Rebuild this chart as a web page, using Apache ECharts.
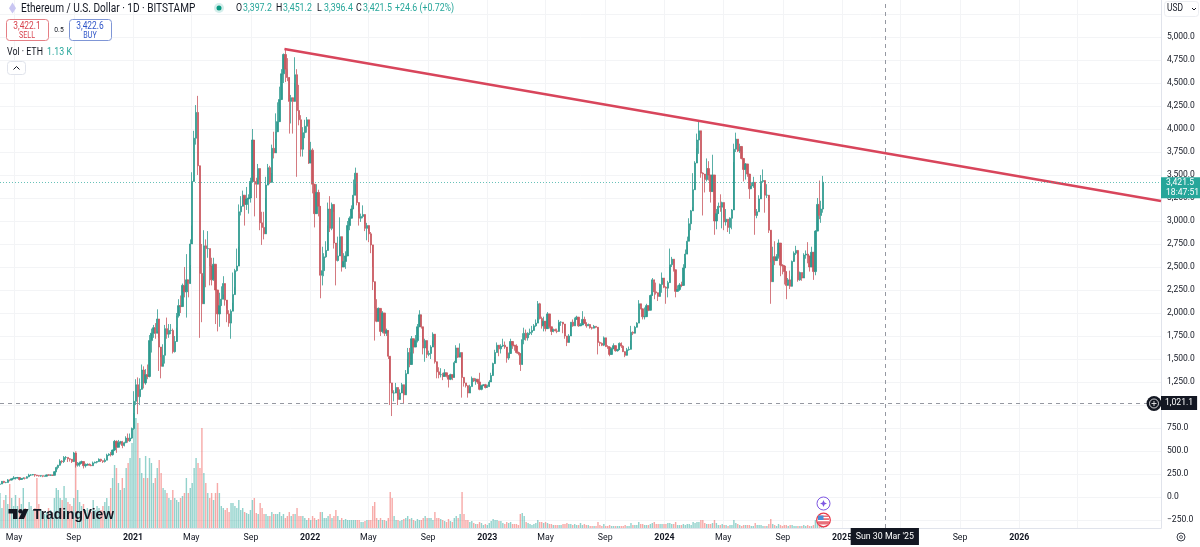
<!DOCTYPE html>
<html>
<head>
<meta charset="utf-8">
<style>html,body{margin:0;padding:0;background:#fff}#c{width:1200px;height:547px}</style>
<script src="https://cdn.jsdelivr.net/npm/echarts@6/dist/echarts.min.js"></script>
</head>
<body>
<div id="c"></div>
<script>
// [close, low, high] per 4-day period, opens follow the previous close
const candles2020=[
[141,134,146],[170,142,174],[158,150,175],[158,150,165],[186,155,195],[184,170,190],[197,180,200],[206,195,227],
[207,190,215],[212,200,218],[190,180,213],[200,185,207],[205,195,215],[204,190,212],[220,200,225],
[238,215,252],[240,228,248],[244,235,250],[238,220,248],[232,225,240],[228,222,235],[232,220,236],[226,215,232],
[226,222,232],[240,224,245],[238,232,246],[238,232,242],[236,232,240],[275,238,280],[320,270,330],[345,300,350],
[390,340,410],[385,365,400],[430,370,445],[430,405,445],[415,380,430],[410,385,420],[385,370,405],
[478,380,490],[345,320,480],[355,330,380],[370,330,385],[385,360,395],[340,310,385],[350,320,365],[355,340,365],
[345,340,365],[340,335,360],[370,345,385],[378,365,385],[385,365,390],[410,380,420],[395,380,415],[385,370,395],
[400,375,420],[455,400,470],[465,445,475],[460,440,490],[510,450,515],[605,500,620],[540,480,615],
[590,540,620],[600,570,610],[560,530,610],[590,550,600],[640,585,660],[610,590,690],[640,600,690],[745,630,755]];
const candles2021=[
[1040,730,1150],[1220,1000,1280],[1090,900,1300],[1170,1000,1290],[1380,1210,1440],[1240,1180,1420],[1330,1220,1390],[1310,1280,1440],
[1700,1300,1760],[1780,1570,1830],[1840,1730,1870],[1780,1720,1890],[1935,1800,2040],[1630,1370,1730],[1420,1290,1520],
[1540,1450,1660],[1830,1450,1870],[1770,1720,1950],[1810,1730,1880],[1810,1770,1880],[1580,1560,1830],[1690,1570,1750],
[1970,1840,2000],[2080,1950,2150],[2070,2000,2190],[2300,2130,2320],[2230,2170,2500],[2360,1950,2640],[2320,2170,2350],[2750,2520,2800],
[3430,2950,3530],[3900,3450,3980],[4180,3830,4260],[3600,3500,4360],[2430,1730,3550],[2100,1900,2750],[2730,2400,2900],[2700,2280,2800],
[2700,2600,2890],[2510,2300,2700],[2360,2300,2600],[2530,2350,2600],[2250,1880,2300],[1990,1800,2050],[2080,1850,2220],
[2150,2080,2290],[2320,2200,2400],[2140,2080,2300],[1990,1900,2050],[1890,1850,2030],[2020,1720,2040],[2200,2110,2440],[2460,2280,2480],
[2510,2450,2700],[3100,2720,3180],[3160,3060,3270],[3280,3180,3330],[3180,2950,3280],[3240,3120,3370],[3250,3080,3290],[3430,3200,3470],
[3880,3700,4000],[3430,3050,3560],[3400,3250,3470],[3570,3450,3620],[2980,2900,3450],[2930,2740,3100],[2860,2800,3100],
[3390,3250,3480],[3580,3430,3620],[3420,3400,3600],[3790,3520,3830],[3740,3680,3970],[3970,3890,4170],[4080,4050,4290],[4320,4100,4460],
[4600,4500,4650],[4810,4500,4820],[4650,4510,4860],[4560,4520,4770],[4300,3950,4310],[4340,4060,4370],[4300,3950,4330],
[4590,4500,4780],[4200,3480,4650],[4100,4040,4480],[3780,3700,4150],[3960,3700,4020],[4030,3900,4100],[4100,3960,4130],[3630,3620,4060]];
const candles2022=[
[3770,3700,3860],[3400,3300,3790],[3080,2930,3300],[3310,3190,3400],[3160,3050,3340],[2410,2160,3000],[2460,2300,2720],[2610,2400,2650],
[2680,2600,2780],[3130,2950,3200],[2920,2880,3270],[3180,2900,3200],[2760,2700,3100],[2570,2300,2750],[2620,2560,2830],
[2830,2790,3040],[2500,2450,2650],[2560,2500,2650],[2620,2480,2670],[2950,2900,3000],[3030,2900,3050],[3130,3100,3170],[3280,3200,3450],
[3520,3400,3580],[3200,3170,3450],[3030,2950,3100],[3050,2990,3080],[3070,3030,3170],[2920,2890,2970],[2950,2790,2980],
[2860,2770,2890],[2740,2650,2880],[2340,2250,2500],[2050,1700,2150],[1910,1900,2150],[2050,1950,2060],[1800,1750,1990],[2000,1780,2020],
[1780,1750,1880],[1810,1750,1830],[1530,1500,1790],[1240,1000,1270],[1130,880,1150],[1130,1040,1160],[1190,1170,1240],
[1060,1000,1100],[1130,1090,1170],[1220,1180,1240],[1110,1010,1120],[1340,1200,1380],[1570,1500,1620],[1440,1410,1620],[1720,1580,1750],
[1630,1560,1680],[1700,1660,1760],[1850,1680,1880],[1980,1900,2030],[1850,1830,1960],[1620,1550,1680],[1700,1470,1720],[1550,1510,1610],
[1560,1530,1590],[1630,1500,1650],[1770,1700,1790],[1470,1450,1650],[1360,1290,1450],[1330,1290,1410],[1330,1300,1400],
[1310,1270,1350],[1350,1310,1390],[1320,1300,1330],[1280,1190,1300],[1330,1270,1340],[1300,1270,1320],[1460,1340,1480],[1620,1540,1650],
[1520,1510,1600],[1570,1550,1670],[1300,1080,1340],[1240,1200,1290],[1210,1190,1240],[1130,1080,1190],[1200,1180,1220],[1290,1200,1310],
[1260,1250,1290],[1280,1220,1290],[1250,1230,1280],[1170,1160,1350],[1210,1160,1220],[1220,1215,1225],[1190,1180,1230]];
const candles2023=[
[1200,1190,1220],[1250,1210,1270],[1320,1260,1350],[1450,1390,1460],[1570,1520,1600],[1650,1570,1680],[1610,1530,1630],[1640,1560,1660],
[1650,1630,1720],[1630,1610,1690],[1510,1460,1550],[1560,1490,1570],[1690,1670,1720],[1650,1610,1660],[1640,1590,1650],
[1570,1560,1660],[1560,1540,1580],[1440,1370,1540],[1710,1600,1780],[1780,1660,1840],[1730,1700,1820],[1780,1700,1790],[1790,1760,1830],
[1810,1760,1860],[1860,1850,1880],[1890,1850,1930],[2100,1950,2130],[1940,1930,2110],[1860,1830,1960],[1910,1800,1960],
[1830,1800,1900],[1990,1870,2010],[1850,1830,1890],[1800,1760,1810],[1820,1790,1830],[1805,1800,1830],[1800,1780,1830],[1900,1890,1925],
[1900,1860,1910],[1880,1780,1890],[1750,1720,1780],[1680,1640,1750],[1750,1710,1770],[1900,1870,1900],[1860,1850,1930],[1930,1860,1950],
[1955,1930,1970],[1860,1850,1880],[1870,1870,1890],[1930,1900,2020],[1890,1880,1960],[1860,1840,1900],[1875,1860,1885],
[1840,1830,1870],[1835,1820,1850],[1855,1840,1870],[1845,1835,1855],[1680,1550,1830],[1670,1640,1690],[1650,1640,1680],[1730,1640,1745],
[1635,1630,1660],[1630,1610,1650],[1550,1530,1640],[1610,1580,1625],[1645,1620,1670],[1590,1580,1600],[1600,1580,1610],[1670,1660,1680],
[1640,1620,1680],[1580,1575,1650],[1540,1520,1570],[1600,1550,1620],[1605,1590,1635],[1790,1700,1860],[1780,1760,1800],
[1845,1790,1860],[1890,1860,1900],[2100,1890,2140],[2045,2040,2080],[1960,1930,2000],[1960,1930,2060],[2080,2070,2100],[2030,2020,2070],
[2190,2150,2200],[2360,2220,2380],[2230,2150,2350],[2220,2200,2330],[2180,2130,2210],[2310,2250,2320],[2380,2220,2440],[2280,2270,2320]];
const candles2024=[
[2270,2100,2290],[2330,2170,2350],[2525,2500,2700],[2585,2500,2610],[2470,2450,2540],[2235,2170,2260],[2255,2240,2300],
[2305,2240,2325],[2300,2280,2340],[2490,2420,2530],[2640,2600,2690],[2780,2740,2830],[2970,2900,3030],[3110,2900,3120],[3340,3150,3520],
[3630,3410,3650],[3880,3790,3950],[3980,3730,4090],[3520,3470,3950],[3510,3060,3530],[3450,3310,3460],[3570,3430,3680],
[3500,3440,3650],[3320,3200,3350],[3500,3440,3720],[3000,2850,3370],[3080,2910,3130],[3160,3120,3200],[3150,3100,3290],[3200,2920,3210],
[2990,2900,3040],[3020,2950,3130],[2930,2880,3020],[3030,2860,3040],[3120,2910,3130],[3780,3640,3840],[3890,3750,3960],[3760,3750,3830],
[3810,3740,3840],[3680,3670,3720],[3560,3430,3650],[3620,3450,3630],[3510,3480,3620],[3350,3240,3430],[3380,3350,3420],
[3420,3360,3480],[3060,2850,3090],[3100,3030,3130],[3240,3100,3280],[3430,3380,3500],[3440,3420,3560],[3280,3090,3290],[3280,3250,3400],
[2900,2870,3220],[2340,2100,2550],[2610,2520,2720],[2570,2520,2780],[2610,2590,2640],[2760,2590,2800],[2520,2400,2700],[2510,2420,2530],
[2450,2310,2520],[2300,2150,2330],[2360,2320,2380],[2290,2260,2460],[2560,2400,2570],[2650,2580,2670],[2680,2630,2730],
[2360,2340,2640],[2440,2350,2450],[2380,2350,2440],[2630,2400,2650],[2640,2590,2680],[2620,2540,2770],[2500,2450,2530],[2660,2600,2720],
[2450,2360,2540],[2890,2410,2900],[3180,2900,3250],[3060,3020,3440],[3130,2980,3220],[3421.5,3090,3490]];

// volume per 4-day period (relative units)
const vol2020=[35,20,28,33,24,44,30,22, 33,22,30,24,40,20,18, 26,22,18,20,50,24,18,16, 14,16,20,18,15,30,40,38, 30,28,42,30,26,24,22, 30,77,38,26,22,24,18,20, 18,16,28,18,22,20,18,22, 26,30,22,40,50,63,60, 45,38,50,40,60,65,70,85];
const vol2021=[115,110,105,70,55,50,72,50, 70,65,45,50,60,68,55, 40,38,35,30,28,38,30, 28,26,30,32,35,50,35,40, 45,60,70,65,60,100,55,45, 35,30,35,28,35,45,35, 22,20,18,20,16,25,25,22, 20,28,18,20,16,15,14,18, 28,30,15,14,25,20,14, 14,12,12,16,14,14,14,16, 12,14,10,12,16,12,14, 14,20,12,12,12,10,8,10];
const vol2022=[8,12,10,8,9,16,16,10, 10,12,14,10,12,18,12, 8,10,8,9,8,8,8,8, 8,8,8,6,6,7,8, 8,8,22,26,10,8,10,8, 8,7,10,36,30,12,8, 8,7,8,9,10,12,9,10, 8,7,9,8,8,10,12,10, 10,10,8,16,10,10,9, 8,7,6,9,7,6,10,12, 10,14,36,14,8,8,6,7, 5,4,4,6,5,3,4];
const vol2023=[3,5,7,9,8,8,7,7, 5,4,6,5,6,4,4, 4,3,14,15,12,6,5,4, 3,4,5,8,6,6,5, 6,5,4,4,3,3,3,3, 3,4,4,5,4,4,3,4, 3,3,5,3,4,3,3, 2,2,2,2,6,3,2,4, 2,2,3,2,2,2,2,2, 2,2,3,2,2,5,3, 3,3,6,4,4,3,3,3, 4,5,6,4,4,4,4,4];
const vol2024=[4,5,5,4,4,6,3, 3,3,4,3,4,4,3,6, 5,6,6,8,8,5,4, 4,4,5,8,5,3,3,4, 3,3,2,3,3,8,5,4, 3,2,3,3,3,3,2, 2,5,3,3,3,2,2,2, 4,9,4,3,2,4,3,2, 3,3,2,3,3,2,2, 2,2,2,3,2,3,2,2, 3,8,10,8,6,4];

const firstOpen=138;
const firstDate='2020-04-02';
const stepDays=4;
const axisStart='2020-04-02';
const axisEnd='2026-10-20';
const priceMin=-337, priceMax=5402;
const priceTicks=[-250,0,250,500,750,1000,1250,1500,1750,2000,2250,2500,2750,3000,3250,3500,3750,4000,4250,4500,4750,5000,5250];
const priceLabels=[-250,0,250,500,750,1250,1500,1750,2000,2250,2500,2750,3000,3250,3500,3750,4000,4250,4500,4750,5000];
const timeTicks=['2020-05-01','2020-09-01','2021-01-01','2021-05-01','2021-09-01','2022-01-01','2022-05-01','2022-09-01','2023-01-01','2023-05-01','2023-09-01','2024-01-01','2024-05-01','2024-09-01','2025-01-01','2025-05-01','2025-09-01','2026-01-01','2026-05-01'];
const timeLabels={'2020-05-01':'May','2020-09-01':'Sep','2021-01-01':'2021','2021-05-01':'May','2021-09-01':'Sep','2022-01-01':'2022','2022-05-01':'May','2022-09-01':'Sep','2023-01-01':'2023','2023-05-01':'May','2023-09-01':'Sep','2024-01-01':'2024','2024-05-01':'May','2024-09-01':'Sep','2025-01-01':'2025','2025-09-01':'Sep','2026-01-01':'2026'};
const trendStart=['2021-11-09',4870], trendEnd=['2026-10-20',3217];
const lastPrice=3421.5, lastLabel='3,421.5\n18:47:51';
const crossPrice=1021.1, crossLabel='1,021.1';
const crossDate='2025-03-30', crossDateLabel="Sun 30 Mar '25";

const UP='#26a69a', DOWN='#ef5350', INK='#131722', FONT='Roboto,"Liberation Sans",sans-serif';
const CUP='#2f9a8f', CDOWN='#c9585f';
const ts=s=>Date.parse(s+'T00:00:00Z');
const closeLowHigh=[...candles2020,...candles2021,...candles2022,...candles2023,...candles2024];
const volumes=[...vol2020,...vol2021,...vol2022,...vol2023,...vol2024];
const dates=closeLowHigh.map((_,i)=>ts(firstDate)+i*stepDays*864e5);
const opens=closeLowHigh.map((d,i)=>i?closeLowHigh[i-1][0]:firstOpen);
const candleData=closeLowHigh.map((d,i)=>[dates[i],opens[i],d[0],d[1],d[2]]);
const volumeData=volumes.map((v,i)=>[dates[i],v]);
const lineMark={symbol:'none',silent:true,animation:false};
const fmtPrice=v=>(v<0?'\u2212':'')+Math.abs(v).toLocaleString('en-US',{minimumFractionDigits:1,maximumFractionDigits:1});

const t=(x,y,text,o={})=>({type:'text',x,y,scaleX:o.sx||.84,silent:true,z:50,style:{text,fill:o.fill||INK,font:(o.weight||'normal')+' '+(o.size||11)+'px '+(o.family||FONT),textAlign:o.align||'left',textVerticalAlign:'middle'}});
const box=(x,y,w,h,stroke,fill)=>({type:'rect',silent:true,z:49,shape:{x,y,width:w,height:h,r:3},style:{stroke,fill:fill||'#fff',lineWidth:1}});
const ohlc=[['O','3,397.2',236],['H','3,451.2',276],['L','3,396.4',317],['C','3,421.5',356]];
const graphics=[
 {type:'polygon',silent:true,z:50,shape:{points:[[12.5,2.5],[16,8.3],[12.5,13.5],[9,8.3]]},style:{fill:'#c9c6f2'}},
 t(21,8.5,'Ethereum / U.S. Dollar · 1D · BITSTAMP',{size:12}),
 {type:'circle',silent:true,z:50,shape:{cx:219,cy:8,r:5},style:{fill:'#d4eeeb'}},
 {type:'circle',silent:true,z:50,shape:{cx:219,cy:8,r:2.5},style:{fill:'#089981'}},
 ...ohlc.flatMap(([a,b,x])=>[t(x,8.5,a,{size:10.5}),t(x+7,8.5,b,{size:10.5,fill:UP})]),
 t(395,8.5,'+24.6 (+0.72%)',{size:10.5,fill:UP}),
 box(6.5,19.5,42,21,'#e57f85'), t(27,26,'3,422.1',{size:10,fill:'#d8434e',align:'center'}), t(27,35.5,'SELL',{size:8.5,fill:'#d8434e',align:'center'}),
 t(59,30,'0.5',{size:8,align:'center'}),
 box(69.5,19.5,42,21,'#7f96d6'), t(90,26,'3,422.6',{size:10,fill:'#2f55c8',align:'center'}), t(90,35.5,'BUY',{size:8.5,fill:'#2f55c8',align:'center'}),
 t(7,52.5,'Vol · ETH',{size:10.5}), t(47,52.5,'1.13 K',{size:10.5,fill:UP}),
 box(7.5,61.5,18,13,'#e0e3eb'),
 {type:'polyline',silent:true,z:50,shape:{points:[[13.5,69.5],[16.5,66.5],[19.5,69.5]]},style:{stroke:INK,lineWidth:1,fill:null}},
 box(1164.5,1.5,34,15,'#eceef2'), t(1167,8.5,'USD',{size:10}),
 {type:'polyline',silent:true,z:50,shape:{points:[[1192,8],[1194,10],[1196,8]]},style:{stroke:INK,lineWidth:1,fill:null}},
 {type:'circle',silent:true,z:50,shape:{cx:1181,cy:537,r:4},style:{stroke:'#3c404b',fill:'#fff',lineWidth:1}},
 {type:'circle',silent:true,z:50,shape:{cx:1181,cy:537,r:1.5},style:{stroke:'#3c404b',fill:'#fff',lineWidth:.8}},
 {type:'circle',silent:true,z:52,shape:{cx:1154,cy:403.5,r:7.5},style:{fill:INK}},
 {type:'circle',silent:true,z:53,shape:{cx:1154,cy:403.5,r:4.5},style:{stroke:'#fff',fill:INK,lineWidth:.8}},
 {type:'polyline',silent:true,z:53,shape:{points:[[1151.5,403.5],[1156.5,403.5]]},style:{stroke:'#fff',lineWidth:.8}},
 {type:'polyline',silent:true,z:53,shape:{points:[[1154,401],[1154,406]]},style:{stroke:'#fff',lineWidth:.8}},
 // TradingView logo
 {type:'polygon',silent:true,z:50,shape:{points:[[8.5,509],[17.5,509],[17.5,519],[13,519],[13,513.5],[8.5,513.5]]},style:{fill:INK}},
 {type:'circle',silent:true,z:50,shape:{cx:20.5,cy:511.2,r:2.2},style:{fill:INK}},
 {type:'polygon',silent:true,z:50,shape:{points:[[23.5,509],[28.5,509],[24,519],[18.5,519]]},style:{fill:INK}},
 t(33,515,'TradingView',{size:13.8,sx:1,weight:'bold',family:'"Liberation Sans",sans-serif'}),
 // event markers
 {type:'circle',silent:true,z:50,shape:{cx:823.5,cy:503.5,r:6.5},style:{fill:'#fff',stroke:'#7e57e2',lineWidth:1}},
 {type:'polygon',silent:true,z:51,shape:{points:[[823.5,500],[824.6,502.4],[827,503.5],[824.6,504.6],[823.5,507],[822.4,504.6],[820,503.5],[822.4,502.4]]},style:{fill:'#7e57e2'}},
 {type:'circle',silent:true,z:50,shape:{cx:823.5,cy:520,r:6.8},style:{fill:'#fff',stroke:'#e8394a',lineWidth:1.3}},
 {type:'rect',silent:true,z:51,shape:{x:818,y:515.5,width:11,height:9},style:{fill:'#e8707a'}},
 {type:'rect',silent:true,z:52,shape:{x:818,y:517,width:11,height:1.2},style:{fill:'#fff'}},
 {type:'rect',silent:true,z:52,shape:{x:818,y:520,width:11,height:1.2},style:{fill:'#fff'}},
 {type:'rect',silent:true,z:53,shape:{x:818,y:515.5,width:5.5,height:4.5},style:{fill:'#4a90d9'}},
];

const chart=echarts.init(document.getElementById('c'),null,{renderer:'canvas'});
chart.setOption({
 animation:false,backgroundColor:'#fff',
 textStyle:{fontFamily:FONT},
 grid:{left:0,top:0,width:1161,height:528,containLabel:false,outerBoundsMode:'none'},
 xAxis:{type:'value',min:ts(axisStart),max:ts(axisEnd),scale:true,
  axisLine:{show:true,onZero:false,lineStyle:{color:'#e0e3eb'}},
  axisTick:{show:false,customValues:timeTicks.map(ts)},
  splitLine:{show:true,lineStyle:{color:'#f3f4f6',width:1}},
  axisLabel:{customValues:Object.keys(timeLabels).map(ts),hideOverlap:false,margin:5,fontSize:8.8,fontFamily:FONT,color:INK,
   formatter:v=>{const s=new Date(v).toISOString().slice(0,10);const l=timeLabels[s]||'';return /^\d/.test(l)?'{b|'+l+'}':l;},
   rich:{b:{fontWeight:'bold',fontSize:8.8,fontFamily:FONT,color:INK}}}},
 yAxis:[
  {type:'value',position:'right',min:priceMin,max:priceMax,
   axisLine:{show:true,onZero:false,lineStyle:{color:'#e0e3eb'}},
   axisTick:{show:false,customValues:priceTicks},
   splitLine:{show:true,lineStyle:{color:'#f3f4f6',width:1}},
   axisLabel:{customValues:priceLabels,align:'left',margin:6,fontSize:8.5,fontFamily:FONT,color:INK,formatter:fmtPrice,hideOverlap:false,showMinLabel:true,showMaxLabel:true}},
  {type:'value',show:false,min:0,max:528,splitLine:{show:false}}],
 series:[
  {name:'Volume',type:'bar',yAxisIndex:1,barWidth:1.4,data:volumeData,z:1,large:false,
   itemStyle:{opacity:.5,color:p=>closeLowHigh[p.dataIndex][0]>=opens[p.dataIndex]?UP:DOWN}},
  {name:'Price',type:'candlestick',barWidth:1.8,data:candleData,z:3,
   itemStyle:{color:CUP,color0:CDOWN,borderColor:CUP,borderColor0:CDOWN,borderWidth:.8},
   markLine:{...lineMark,z:5,
    data:[
     {yAxis:lastPrice,lineStyle:{color:'rgba(38,166,154,.7)',type:[1,2],width:1},
      label:{show:true,position:'end',distance:0,formatter:lastLabel,color:'#fff',fontSize:8.6,lineHeight:10.5,fontFamily:FONT,backgroundColor:UP,borderRadius:[0,2,2,0],padding:[0,5,0,5],align:'left',offset:[0,5.5]}},
     {yAxis:crossPrice,lineStyle:{color:'#9598a1',type:[4,4],width:1},
      label:{show:true,position:'end',distance:0,formatter:crossLabel,color:'#fff',fontSize:8.6,fontFamily:FONT,backgroundColor:INK,padding:[3,4,2,4]}},
     {xAxis:ts(crossDate),lineStyle:{color:'#9598a1',type:[4,4],width:1},
      label:{show:true,position:'start',distance:0,formatter:crossDateLabel,color:'#fff',fontSize:8.8,fontFamily:FONT,backgroundColor:INK,padding:[4,5,4,5]}}
    ]}},
  {name:'Trend',type:'line',symbol:'none',silent:true,z:4,clip:true,
   data:[[ts(trendStart[0]),trendStart[1]],[ts(trendEnd[0]),trendEnd[1]]],
   lineStyle:{color:'#d8455b',width:2.6}}
 ],
 graphic:{elements:graphics}
});
</script>
</body>
</html>
